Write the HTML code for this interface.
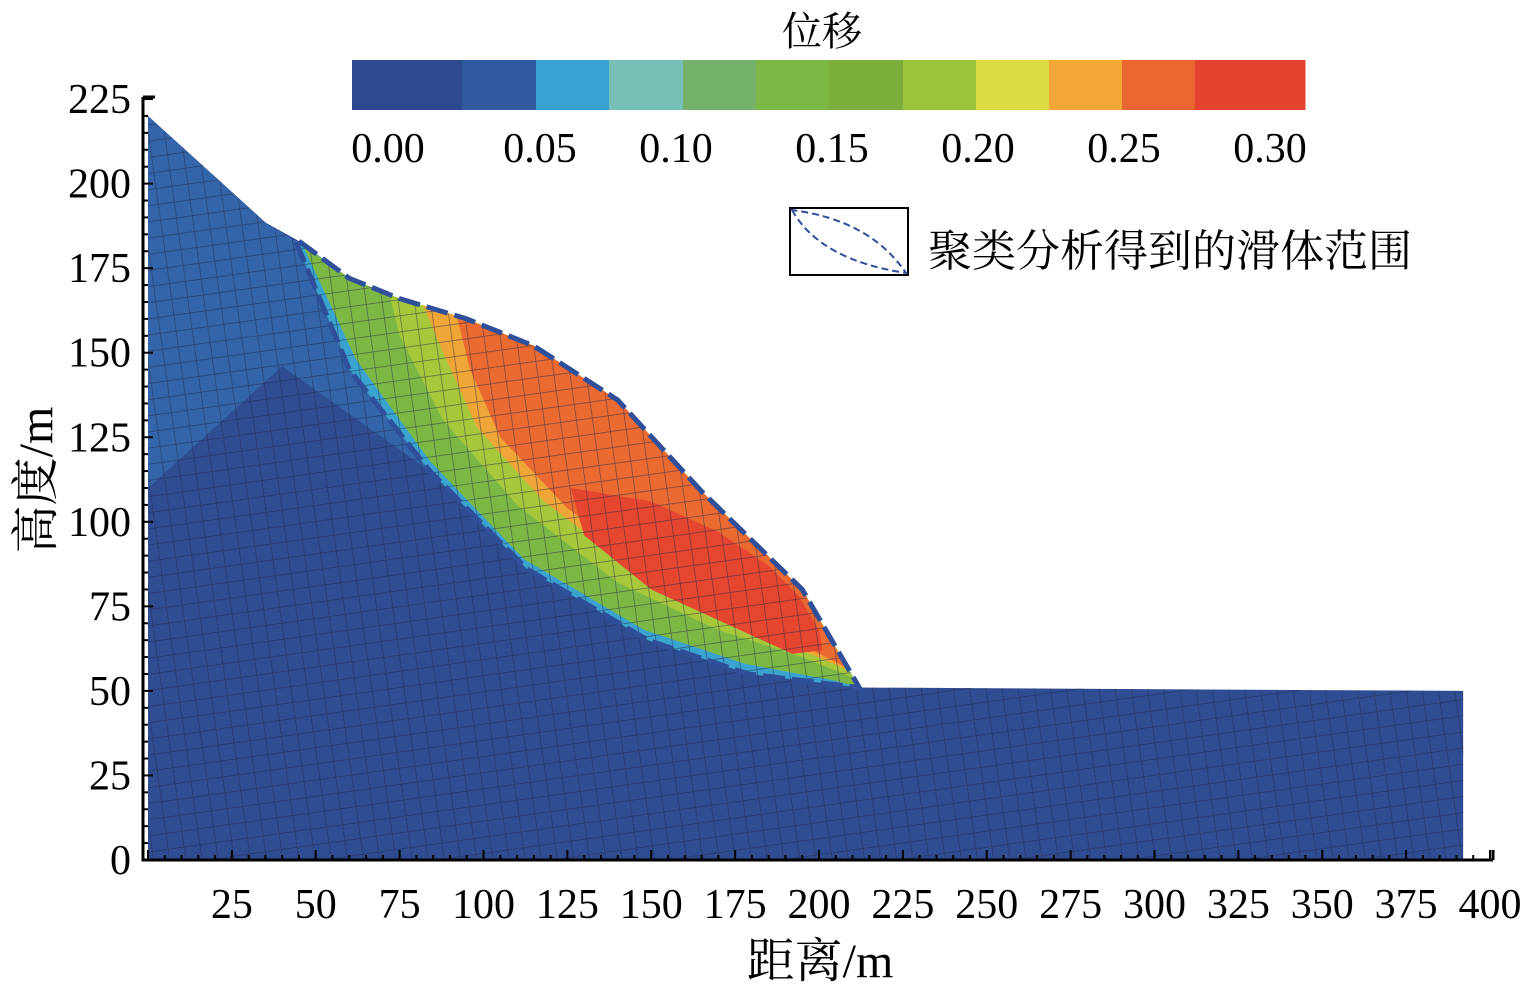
<!DOCTYPE html>
<html><head><meta charset="utf-8"><style>
body{margin:0;background:#fff}
svg{display:block;font-family:"Liberation Serif","Noto Serif CJK SC",serif}
</style></head><body>
<svg id="c" width="1535" height="989" viewBox="0 0 1535 989">
<defs>
<pattern id="mesh" width="16" height="16" patternUnits="userSpaceOnUse" patternTransform="rotate(-8)">
<path d="M0 0H16M0 0V16" stroke="#23284a" stroke-opacity="0.6" stroke-width="1.4" fill="none"/>
</pattern>
</defs>
<g id="plot"></g>
</svg>
<script>
const xTicks=[25,50,75,100,125,150,175,200,225,250,275,300,325,350,375,400];
const yTicks=[0,25,50,75,100,125,150,175,200,225];
const cbLabels=["0.00","0.05","0.10","0.15","0.20","0.25","0.30"];
const cbColors=["#2d4a91","#2f5aa0","#39a0d2","#76c0b8","#74b26c","#7ab843","#7bae3b","#9cc33c","#dcdb44","#f4a838","#ea6530","#e4412e"];
const surfX=[0,35,45,60,75,95,115,140,165,195,212,392];
const surfY=[220,188.5,183,172,166,160,152,136,109,80,51,50];
const slipX=[44,60,84,113,149,179,212];
const slipY=[183,145,115,86,65,55,51];
const X=v=>148+v*3.355, Y=v=>860-v*3.382;
const NS="http://www.w3.org/2000/svg";
const g=document.getElementById('plot');
function mk(t,a,txt){const e=document.createElementNS(NS,t);for(const k in a)e.setAttribute(k,a[k]);if(txt!==undefined)e.textContent=txt;g.appendChild(e);return e;}
function pts(xs,ys){return xs.map((x,i)=>X(x)+','+Y(ys[i])).join(' ');}
let body=mk('polygon',{points:pts(surfX.concat([392,0]),surfY.concat([0,0])),fill:'#2e4d93'});


let lb=mk('polygon',{points:pts([0,35,44,60,84,40,0],[220,188.5,183,145,115,146,110]),fill:'#3464a9'});


let sx=surfX.slice(2,11), sy=surfY.slice(2,11);
let slide=mk('polygon',{points:pts(sx.concat(slipX.slice().reverse()),sy.concat(slipY.slice().reverse())),fill:'#3aa3d0'});


const zones=[
 ['#7cb944',[46,60,75,95,115,140,165,195,212,205,178,148,112,84,62],[182,172,166,160,152,136,109,80,51,53,58,68,89,118,148]],
 ['#a8c83c',[72,95,115,140,165,195,210,195,170,140,110,88,75],[167,160,152,136,109,80,54,60,68,82,105,130,155]],
 ['#f0a537',[82,95,115,140,165,195,209,195,172,145,118,98,88],[164,160,152,136,109,80,56,62,72,86,106,128,150]],
 ['#ea6a31',[92,115,140,165,195,208,196,175,150,125,105,96],[161,152,136,109,80,57,63,72,86,104,125,145]],
 ['#e4462f',[126,150,170,185,194,200,201,192,172,150,130],[110,106,97,87,78,68,62,61,70,80,96]]
];
zones.forEach((z,i)=>{const p=mk('polygon',{points:pts(z[1],z[2]),fill:z[0]});

});
let meshEl=mk('polygon',{points:pts(surfX.concat([392,0]),surfY.concat([0,0])),fill:'url(#mesh)'});


let out=mk('polygon',{points:pts(sx.concat(slipX.slice().reverse()),sy.concat(slipY.slice().reverse())),fill:'none',stroke:'#2f4f9a','stroke-width':5,'stroke-dasharray':'22 7'});


let ax=mk('path',{d:`M143 97V860H1493M143 97H155M1493 860V850`,stroke:'#000','stroke-width':3,fill:'none'});


for(let v=0;v<=225;v+=5){mk('line',{x1:143,x2:v%25==0?153:148,y1:Y(v),y2:Y(v),stroke:'#000','stroke-width':2});}
for(let v=0;v<=400;v+=5){mk('line',{y1:860,y2:v%25==0?850:855,x1:X(v),x2:X(v),stroke:'#000','stroke-width':2});}
yTicks.forEach(v=>{const t=mk('text',{x:131,y:Y(v)+14,'text-anchor':'end','font-size':42},v);

});
xTicks.forEach(v=>{const t=mk('text',{x:X(v),y:918,'text-anchor':'middle','font-size':42},v);

});
let xt=mk('text',{x:820,y:977,'text-anchor':'middle','font-size':48},'距离/m');


let yt=mk('text',{x:0,y:0,'text-anchor':'middle','font-size':48,transform:'translate(52,480) rotate(-90)'},'高度/m');


const cbEdges=[352,462,536,609,683,756,829,903,976,1049,1122,1195,1305];
cbColors.forEach((c,i)=>{const r=mk('rect',{x:cbEdges[i],y:60,width:cbEdges[i+1]-cbEdges[i]+0.5,height:50,fill:c});

});
const cbPos=[388,540,676,832,978,1124,1270];
cbLabels.forEach((l,i)=>{const t=mk('text',{x:cbPos[i],y:162,'text-anchor':'middle','font-size':42},l);

});
let ct=mk('text',{x:822,y:45,'text-anchor':'middle','font-size':40},'位移');


let lbx=mk('rect',{x:790,y:208,width:118,height:67,fill:'#fff',stroke:'#000','stroke-width':2});


let le=mk('path',{d:'M792 210Q820 260 906 273Q870 220 792 210Z',fill:'none',stroke:'#2f4f9a','stroke-width':2,'stroke-dasharray':'7 4'});


let ltx=mk('text',{x:928,y:266,'font-size':44},'聚类分析得到的滑体范围');


</script>
</body></html>
